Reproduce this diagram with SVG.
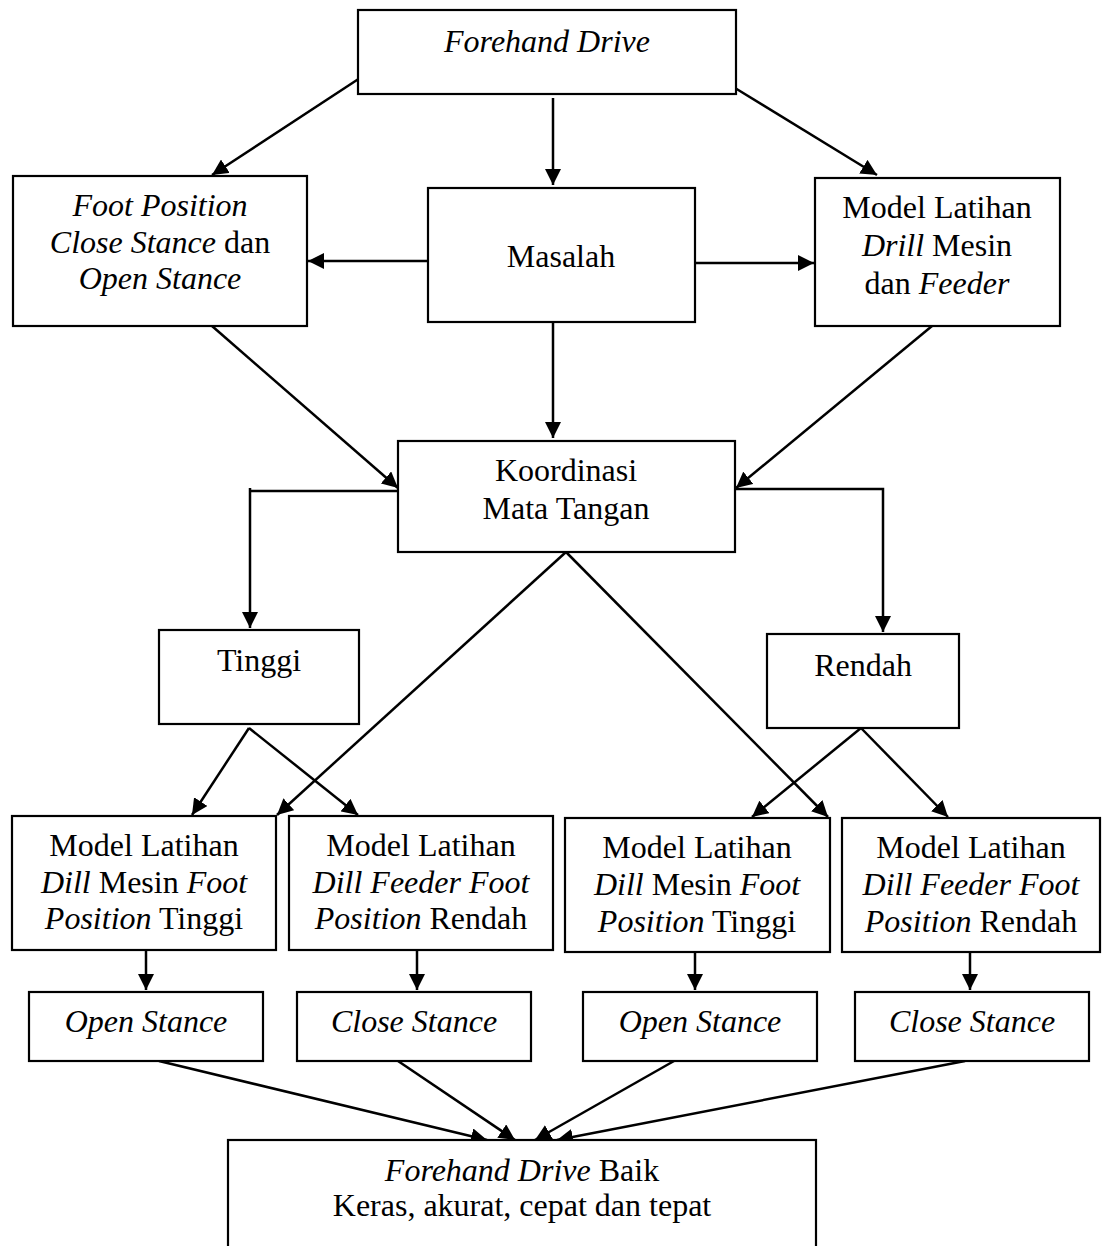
<svg xmlns="http://www.w3.org/2000/svg" width="1102" height="1246" viewBox="0 0 1102 1246">
<style>
.box{fill:#fff;stroke:#000;stroke-width:2.2}
.t{font-family:"Liberation Serif","Times New Roman",serif;font-size:32px;fill:#000;text-anchor:middle}
.i{font-style:italic}
.c{fill:none;stroke:#000;stroke-width:2.5;marker-end:url(#ah)}
</style>
<defs>
<marker id="ah" markerUnits="userSpaceOnUse" markerWidth="17" markerHeight="16" refX="16" refY="8" orient="auto">
<path d="M0,0 L16,8 L0,16 z" fill="#000"/>
</marker>
</defs>
<rect width="1102" height="1246" fill="#fff"/>
<g id="connectors">
<path class="c" d="M360,78 L212,175"/>
<path class="c" d="M553,98 L553,185"/>
<path class="c" d="M735,88 L877,175"/>
<path class="c" d="M428,261 L308,261"/>
<path class="c" d="M695,263 L814,263"/>
<path class="c" d="M553,322 L553,438"/>
<path class="c" d="M212,326 L398,488"/>
<path class="c" d="M932,326 L736,488"/>
<path class="c" d="M398,491 H250 M250,488 V628"/>
<path class="c" d="M735,489 H883 V632"/>
<path class="c" d="M249,728 L192,815"/>
<path class="c" d="M249,728 L358,815"/>
<path class="c" d="M566,552 L277,815"/>
<path class="c" d="M566,552 L828,817"/>
<path class="c" d="M861,728 L752,817"/>
<path class="c" d="M861,728 L948,817"/>
<path class="c" d="M146,950 L146,990"/>
<path class="c" d="M417,950 L417,990"/>
<path class="c" d="M695,952 L695,990"/>
<path class="c" d="M970,952 L970,990"/>
<path class="c" d="M159,1061 L487,1140"/>
<path class="c" d="M398,1061 L515,1140"/>
<path class="c" d="M674,1061 L535,1140"/>
<path class="c" d="M965,1061 L557,1140"/>
</g>
<g id="forehand-drive">
<rect class="box" x="358" y="10" width="378" height="84"/>
<text class="t i" x="547" y="52">Forehand Drive</text>
</g>
<g id="foot-position">
<rect class="box" x="13" y="176" width="294" height="150"/>
<text class="t" x="160" y="216"><tspan class="i">Foot Position</tspan></text>
<text class="t" x="160" y="253"><tspan class="i">Close Stance</tspan> dan</text>
<text class="t" x="160" y="289"><tspan class="i">Open Stance</tspan></text>
</g>
<g id="masalah">
<rect class="box" x="428" y="188" width="267" height="134"/>
<text class="t" x="561" y="267">Masalah</text>
</g>
<g id="model-latihan">
<rect class="box" x="815" y="178" width="245" height="148"/>
<text class="t" x="937" y="218">Model Latihan</text>
<text class="t" x="937" y="256"><tspan class="i">Drill</tspan> Mesin</text>
<text class="t" x="937" y="294">dan <tspan class="i">Feeder</tspan></text>
</g>
<g id="koordinasi">
<rect class="box" x="398" y="441" width="337" height="111"/>
<text class="t" x="566" y="481">Koordinasi</text>
<text class="t" x="566" y="519">Mata Tangan</text>
</g>
<g id="tinggi">
<rect class="box" x="159" y="630" width="200" height="94"/>
<text class="t" x="259" y="671">Tinggi</text>
</g>
<g id="rendah">
<rect class="box" x="767" y="634" width="192" height="94"/>
<text class="t" x="863" y="676">Rendah</text>
</g>
<g id="model-a">
<rect class="box" x="12" y="816" width="264" height="134"/>
<text class="t" x="144" y="856">Model Latihan</text>
<text class="t" x="144" y="893"><tspan class="i">Dill</tspan> Mesin <tspan class="i">Foot</tspan></text>
<text class="t" x="144" y="929"><tspan class="i">Position</tspan> Tinggi</text>
</g>
<g id="model-b">
<rect class="box" x="289" y="816" width="264" height="134"/>
<text class="t" x="421" y="856">Model Latihan</text>
<text class="t" x="421" y="893"><tspan class="i">Dill Feeder Foot</tspan></text>
<text class="t" x="421" y="929"><tspan class="i">Position</tspan> Rendah</text>
</g>
<g id="model-c">
<rect class="box" x="565" y="818" width="265" height="134"/>
<text class="t" x="697" y="858">Model Latihan</text>
<text class="t" x="697" y="895"><tspan class="i">Dill</tspan> Mesin <tspan class="i">Foot</tspan></text>
<text class="t" x="697" y="932"><tspan class="i">Position</tspan> Tinggi</text>
</g>
<g id="model-d">
<rect class="box" x="842" y="818" width="258" height="134"/>
<text class="t" x="971" y="858">Model Latihan</text>
<text class="t" x="971" y="895"><tspan class="i">Dill Feeder Foot</tspan></text>
<text class="t" x="971" y="932"><tspan class="i">Position</tspan> Rendah</text>
</g>
<g id="open-a">
<rect class="box" x="29" y="992" width="234" height="69"/>
<text class="t i" x="146" y="1032">Open Stance</text>
</g>
<g id="close-b">
<rect class="box" x="297" y="992" width="234" height="69"/>
<text class="t i" x="414" y="1032">Close Stance</text>
</g>
<g id="open-c">
<rect class="box" x="583" y="992" width="234" height="69"/>
<text class="t i" x="700" y="1032">Open Stance</text>
</g>
<g id="close-d">
<rect class="box" x="855" y="992" width="234" height="69"/>
<text class="t i" x="972" y="1032">Close Stance</text>
</g>
<g id="hasil">
<rect class="box" x="228" y="1140" width="588" height="130"/>
<text class="t" x="522" y="1181"><tspan class="i">Forehand Drive</tspan> Baik</text>
<text class="t" x="522" y="1216">Keras, akurat, cepat dan tepat</text>
</g>
</svg>
